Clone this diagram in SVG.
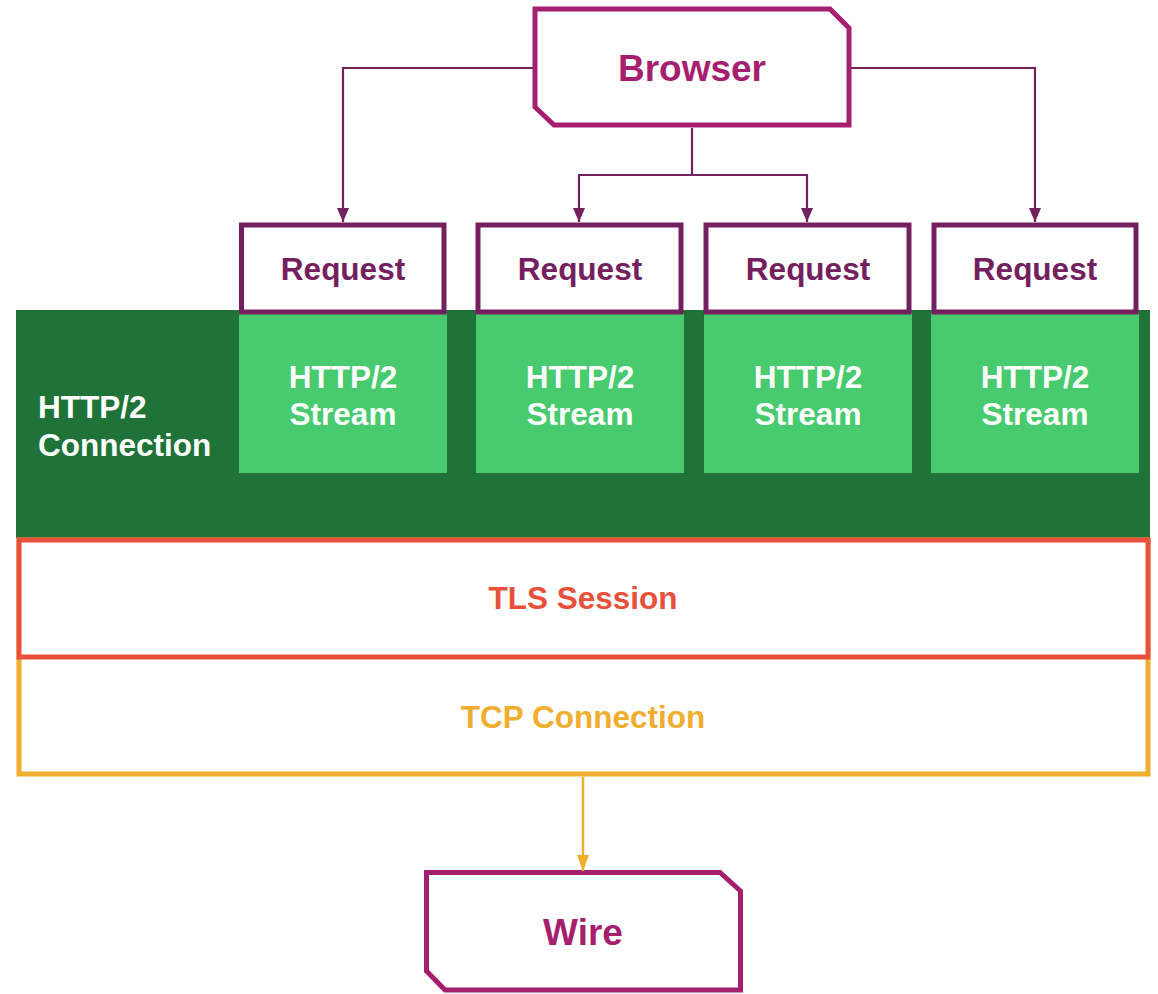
<svg xmlns="http://www.w3.org/2000/svg" width="1158" height="994" viewBox="0 0 1158 994">
<defs>
<style>
text{font-family:"Liberation Sans",Arial,sans-serif;font-weight:bold;text-anchor:middle}
.big{font-size:37px;fill:#A61E6E}
.req{font-size:31.5px;fill:#74205E}
.wt{font-size:31.5px;fill:#FFFFFF}
.term{fill:#FFFFFF;stroke:#A61E6E;stroke-width:5}
.reqbox{fill:#FFFFFF;stroke:#74205E;stroke-width:5}
.stream{fill:#48CA6E}
.conn{fill:none;stroke:#74205E;stroke-width:2.2}
</style>
<marker id="ap2" viewBox="0 0 14 12" refX="14" refY="6" markerWidth="14" markerHeight="12" orient="auto" markerUnits="userSpaceOnUse"><path d="M0,0 L14,6 L0,12 Z" fill="#74205E"/></marker>
<marker id="ao" viewBox="0 0 16 12" refX="16" refY="6" markerWidth="16" markerHeight="12" orient="auto" markerUnits="userSpaceOnUse"><path d="M0,0 L16,6 L0,12 Z" fill="#F0AD2E"/></marker>
</defs>
<rect width="1158" height="994" fill="#FFFFFF"/>
<g id="http2-connection">
<rect x="16" y="310" width="1134" height="228" fill="#1F7339"/>
<text class="wt" style="text-anchor:start" x="38" y="418">HTTP/2</text>
<text class="wt" style="text-anchor:start" x="38" y="456">Connection</text>
</g>
<g id="tcp">
<rect x="19" y="540" width="1129" height="234" fill="#FFFFFF" stroke="#F0AD2E" stroke-width="5"/>
<text x="583" y="728" style="font-size:31.5px;fill:#F0AD2E">TCP Connection</text>
</g>
<g id="tls">
<rect x="19" y="540" width="1129" height="117" fill="#FFFFFF" stroke="#E8503A" stroke-width="5"/>
<text x="583" y="609" style="font-size:31.5px;fill:#E8503A">TLS Session</text>
</g>
<g id="stream1"><rect class="stream" x="239" y="313" width="208" height="160"/><text class="wt" x="343" y="388">HTTP/2</text><text class="wt" x="343" y="425">Stream</text></g>
<g id="stream2"><rect class="stream" x="476" y="313" width="208" height="160"/><text class="wt" x="580" y="388">HTTP/2</text><text class="wt" x="580" y="425">Stream</text></g>
<g id="stream3"><rect class="stream" x="704" y="313" width="208" height="160"/><text class="wt" x="808" y="388">HTTP/2</text><text class="wt" x="808" y="425">Stream</text></g>
<g id="stream4"><rect class="stream" x="931" y="313" width="208" height="160"/><text class="wt" x="1035" y="388">HTTP/2</text><text class="wt" x="1035" y="425">Stream</text></g>
<g id="request1"><rect class="reqbox" x="241.5" y="225" width="202.5" height="87"/><text class="req" x="343" y="280">Request</text></g>
<g id="request2"><rect class="reqbox" x="478" y="225" width="203" height="87"/><text class="req" x="580" y="280">Request</text></g>
<g id="request3"><rect class="reqbox" x="706" y="225" width="203" height="87"/><text class="req" x="808" y="280">Request</text></g>
<g id="request4"><rect class="reqbox" x="934" y="225" width="202" height="87"/><text class="req" x="1035" y="280">Request</text></g>
<g id="browser">
<polygon class="term" points="535,9 830,9 849,28 849,125 554,125 535,107"/>
<text class="big" x="692" y="81">Browser</text>
</g>
<g id="wire">
<polygon class="term" points="426.5,872.5 720,872.5 740.5,891 740.5,990 445,990 426.5,971"/>
<text class="big" x="583" y="945">Wire</text>
</g>
<g id="connectors">
<path class="conn" d="M533,68 H343 V222" marker-end="url(#ap2)"/>
<path class="conn" d="M851,68 H1035 V222" marker-end="url(#ap2)"/>
<path class="conn" d="M692,128 V175 H579 V222" marker-end="url(#ap2)"/>
<path class="conn" d="M692,175 H807 V222" marker-end="url(#ap2)"/>
<path fill="none" stroke="#F0AD2E" stroke-width="2.5" d="M583,777 V871" marker-end="url(#ao)"/>
</g>
</svg>
